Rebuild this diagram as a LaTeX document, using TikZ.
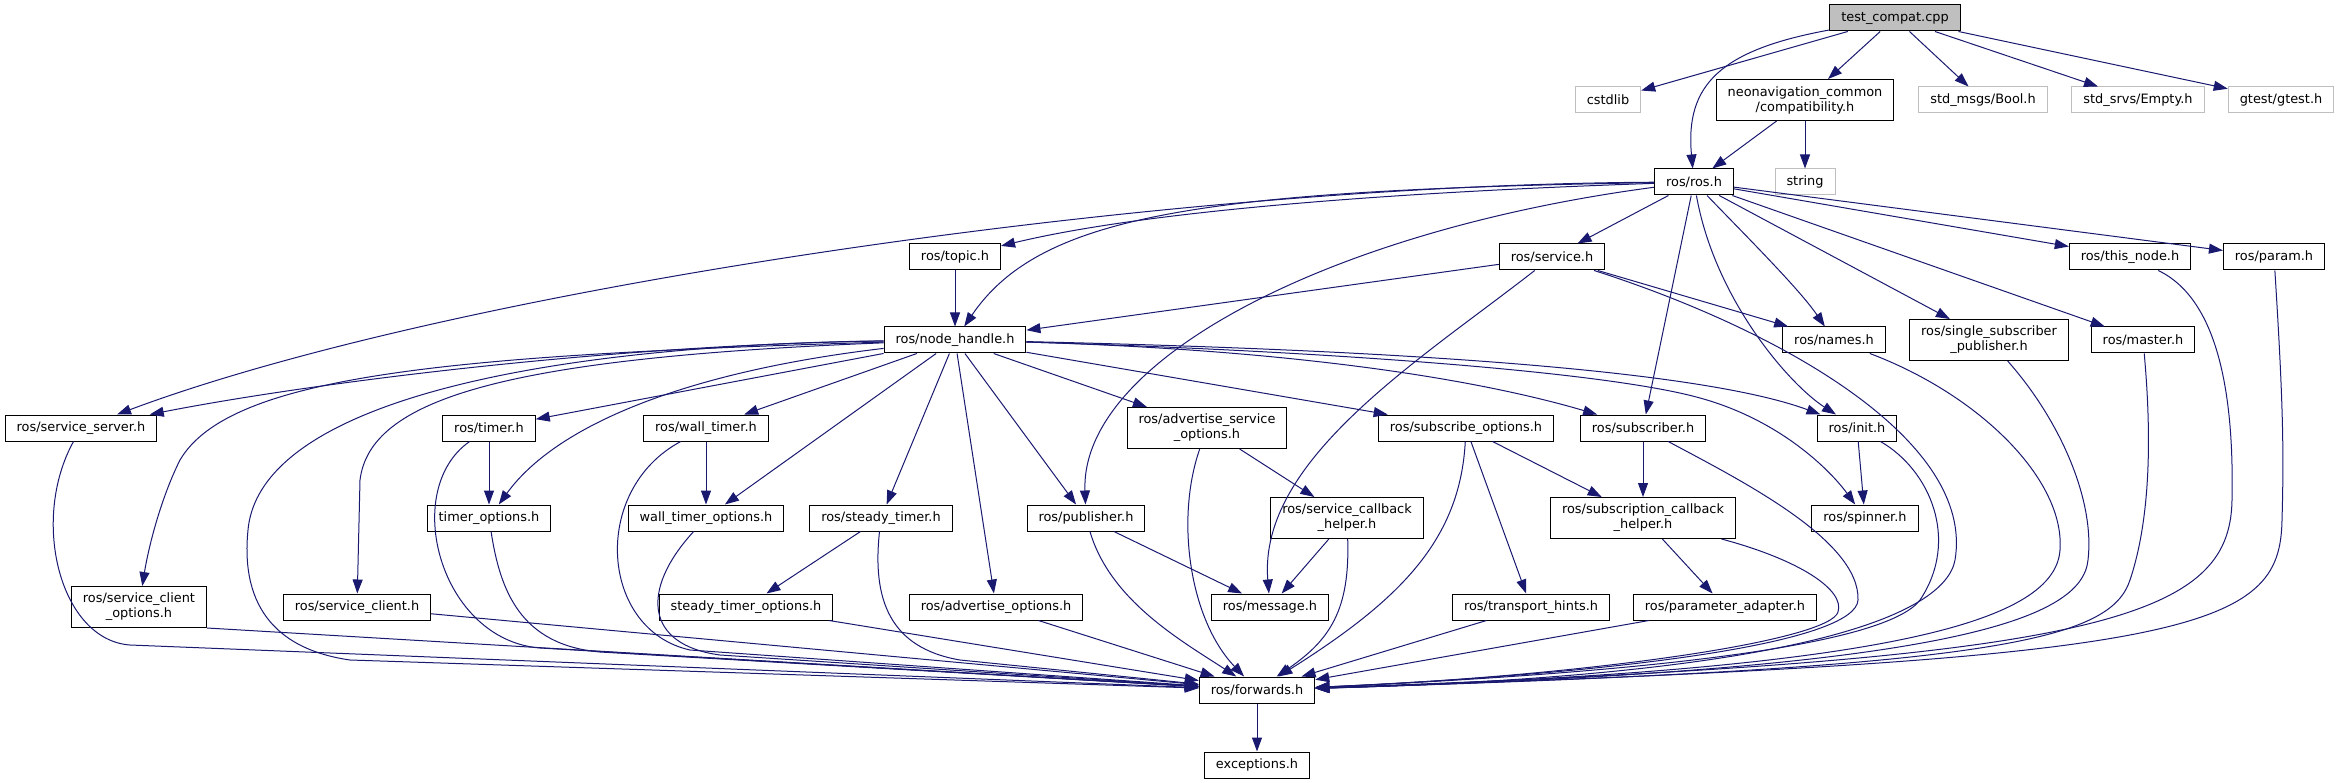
\documentclass[tikz,border=0pt]{standalone}
\usepackage{fontspec}
\setmainfont{DejaVu Sans}
\usepackage{tikz}
\usetikzlibrary{shapes,arrows,arrows.meta,calc}
\definecolor{edgeblue}{HTML}{191970}
\definecolor{sysgray}{HTML}{BFBFBF}
\tikzstyle{line} = [draw, edgeblue, line width=1pt, -{Triangle[length=14pt,width=10pt]}]
\tikzstyle{block} = [draw, rectangle, text centered, line width=1pt, minimum height=26pt, inner xsep=11.5pt, inner ysep=4pt, font=\fontsize{12.9}{15}\selectfont]
\tikzstyle{twoline} = [block, align=center, minimum height=41pt]
\tikzstyle{sysblock} = [block, draw=sysgray]
\tikzstyle{rootblock} = [block, fill=sysgray]

\begin{document}
\begin{tikzpicture}[x=1pt, y=-1pt, node distance=90pt, auto]
        \useasboundingbox (0,0) rectangle (2339,783);
        \node[rootblock] (testcompat) at (1895,18) {test\_compat.cpp};
        \node[sysblock] (cstdlib) at (1608,100) {cstdlib};
        \node[twoline] (compat) at (1805,100) {neonavigation\_common\\/compatibility.h};
        \node[sysblock] (boolh) at (1983,100) {std\_msgs/Bool.h};
        \node[sysblock] (emptyh) at (2138,100) {std\_srvs/Empty.h};
        \node[sysblock] (gtest) at (2281,100) {gtest/gtest.h};
        \node[block] (ros) at (1694,182) {ros/ros.h};
        \node[sysblock] (string) at (1805,182) {string};
        \node[block] (topic) at (955,257) {ros/topic.h};
        \node[block] (service) at (1552,257) {ros/service.h};
        \node[block] (thisnode) at (2130,257) {ros/this\_node.h};
        \node[block] (param) at (2274,257) {ros/param.h};
        \node[block] (handle) at (955,340) {ros/node\_handle.h};
        \node[block] (names) at (1834,340) {ros/names.h};
        \node[twoline] (single) at (1989,340) {ros/single\_subscriber\\\_publisher.h};
        \node[block] (master) at (2143,340) {ros/master.h};
        \node[block] (server) at (81,428) {ros/service\_server.h};
        \node[block] (timer) at (489,428) {ros/timer.h};
        \node[block] (walltimer) at (706,428) {ros/wall\_timer.h};
        \node[twoline] (advservice) at (1207,428) {ros/advertise\_service\\\_options.h};
        \node[block] (subopts) at (1466,428) {ros/subscribe\_options.h};
        \node[block] (subscriber) at (1643,428) {ros/subscriber.h};
        \node[block] (init) at (1857,428) {ros/init.h};
        \node[block, below of=timer] (timeropts) {timer\_options.h};
        \node[block, below of=walltimer] (walltimeropts) {wall\_timer\_options.h};
        \node[block] (steady) at (881,518) {ros/steady\_timer.h};
        \node[block] (publisher) at (1086,518) {ros/publisher.h};
        \node[twoline] (srvhelper) at (1347,518) {ros/service\_callback\\\_helper.h};
        \node[twoline, below of=subscriber] (subhelper) {ros/subscription\_callback\\\_helper.h};
        \node[block] (spinner) at (1865,518) {ros/spinner.h};
        \node[twoline] (clientopts) at (139,607) {ros/service\_client\\\_options.h};
        \node[block] (client) at (357,607) {ros/service\_client.h};
        \node[block] (steadyopts) at (746,607) {steady\_timer\_options.h};
        \node[block] (advopts) at (996,607) {ros/advertise\_options.h};
        \node[block] (message) at (1270,607) {ros/message.h};
        \node[block] (hints) at (1531,607) {ros/transport\_hints.h};
        \node[block] (adapter) at (1725,607) {ros/parameter\_adapter.h};
        \node[block] (forwards) at (1257,690) {ros/forwards.h};
        \node[block, below of=forwards, node distance=75pt] (exceptions) {exceptions.h};

        \path[line] (testcompat) -- (cstdlib);
        \path[line] (testcompat) .. controls (1720,50) and (1685,85) .. (ros);
        \path[line] (testcompat) -- (compat);
        \path[line] (testcompat) -- (boolh);
        \path[line] (testcompat) -- (emptyh);
        \path[line] (testcompat) -- (gtest);
        \path[line] (compat) -- (ros);
        \path[line] (compat) -- (string);

        \path[line] (ros) .. controls (1400,192) and (1150,210) .. (topic);
        \path[line] (ros) .. controls (1200,190) and (1040,215) .. (handle);
        \path[line] (ros) .. controls (1150,185) and (450,290) .. (server);
        \path[line] (ros) -- (service);
        \path[line] (ros) .. controls (1330,230) and (1080,360) .. (publisher);
        \path[line] (ros) -- (subscriber);
        \path[line] (ros) .. controls (1715,300) and (1790,385) .. (init);
        \path[line] (ros) .. controls (1750,240) and (1800,290) .. (names);
        \path[line] (ros) -- (single);
        \path[line] (ros) -- (master);
        \path[line] (ros) -- (thisnode);
        \path[line] (ros) -- (param);

        \path[line] (service) -- (handle);
        \path[line] (service) -- (names);
        \path[line] (service) .. controls (1420,360) and (1258,460) .. (message);
        \path[line] (topic) -- (handle);

        \path[line] (handle) .. controls (600,345) and (300,385) .. (server);
        \path[line] (handle) .. controls (450,355) and (230,375) .. (180,460) .. controls (160,500) and (148,550) .. (clientopts);
        \path[line] (handle) .. controls (500,358) and (370,400) .. (360,480) -- (client);
        \path[line] (handle) -- (timer);
        \path[line] (handle) .. controls (700,370) and (560,420) .. (timeropts);
        \path[line] (handle) -- (walltimer);
        \path[line] (handle) -- (walltimeropts);
        \path[line] (handle) -- (steady);
        \path[line] (handle) -- (advopts);
        \path[line] (handle) -- (publisher);
        \path[line] (handle) -- (advservice);
        \path[line] (handle) -- (subopts);
        \path[line] (handle) .. controls (1300,350) and (1480,380) .. (subscriber);
        \path[line] (handle) .. controls (1400,350) and (1700,370) .. (init);
        \path[line] (handle) .. controls (1300,350) and (1600,370) .. (1700,398) .. controls (1780,420) and (1830,470) .. (spinner);

        \path[line] (timer) -- (timeropts);
        \path[line] (walltimer) -- (walltimeropts);
        \path[line] (steady) -- (steadyopts);
        \path[line] (publisher) -- (message);
        \path[line] (advservice) -- (srvhelper);
        \path[line] (srvhelper) -- (message);
        \path[line] (subopts) -- (subhelper);
        \path[line] (subopts) -- (hints);
        \path[line] (subscriber) -- (subhelper);
        \path[line] (subhelper) -- (adapter);
        \path[line] (init) -- (spinner);

        \path[line] (server) .. controls (30,520) and (60,640) .. (130,645) -- (forwards);
        \path[line] (clientopts.south east) -- (forwards);
        \path[line] (handle) .. controls (550,345) and (260,400) .. (248,530) .. controls (240,610) and (280,650) .. (350,660) -- (forwards);
        \path[line] (client) -- (forwards);
        \path[line] (timer) .. controls (400,490) and (440,640) .. (540,648) -- (forwards);
        \path[line] (timeropts) .. controls (500,590) and (520,645) .. (600,652) -- (forwards);
        \path[line] (walltimer) .. controls (590,490) and (600,630) .. (690,650) -- (forwards);
        \path[line] (walltimeropts) .. controls (640,590) and (645,645) .. (720,655) -- (forwards);
        \path[line] (steady) .. controls (872,600) and (890,648) .. (960,660) -- (forwards);
        \path[line] (steadyopts) -- (forwards);
        \path[line] (advopts) -- (forwards);
        \path[line] (publisher) .. controls (1110,600) and (1180,640) .. (forwards);
        \path[line] (advservice) .. controls (1175,520) and (1190,620) .. (forwards);
        \path[line] (srvhelper) .. controls (1350,610) and (1330,640) .. (forwards);
        \path[line] (subopts) .. controls (1460,540) and (1400,600) .. (forwards);
        \path[line] (hints) -- (forwards);
        \path[line] (adapter) -- (forwards);
        \path[line] (subhelper) .. controls (1800,560) and (1845,590) .. (1838,612) .. controls (1830,640) and (1600,675) .. (forwards);
        \path[line] (subscriber) .. controls (1740,480) and (1860,540) .. (1858,600) .. controls (1856,640) and (1650,672) .. (forwards);
        \path[line] (init) .. controls (1930,470) and (1960,540) .. (1920,600) .. controls (1890,640) and (1700,670) .. (forwards);
        \path[line] (service) .. controls (1780,330) and (1975,440) .. (1955,560) .. controls (1945,615) and (1800,675) .. (forwards);
        \path[line] (names) .. controls (1980,395) and (2065,480) .. (2060,550) .. controls (2055,620) and (1900,670) .. (forwards);
        \path[line] (single) .. controls (2060,420) and (2095,500) .. (2088,560) .. controls (2082,620) and (1950,670) .. (forwards);
        \path[line] (master) .. controls (2152,440) and (2150,520) .. (2130,580) .. controls (2110,640) and (2000,668) .. (forwards);
        \path[line] (thisnode) .. controls (2220,300) and (2234,400) .. (2232,500) .. controls (2230,620) and (2100,660) .. (forwards);
        \path[line] (param) .. controls (2283,400) and (2284,450) .. (2282,520) .. controls (2280,630) and (2200,660) .. (forwards);
        \path[line] (forwards) -- (exceptions);
    \end{tikzpicture}
\end{document}
